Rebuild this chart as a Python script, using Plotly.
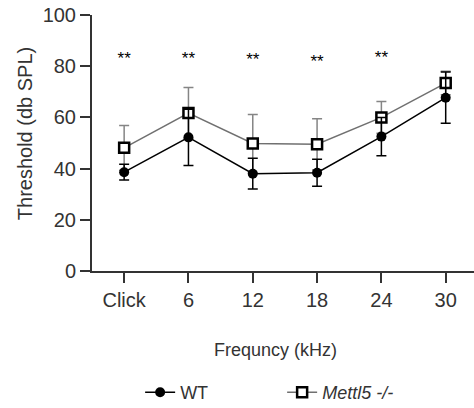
import plotly.graph_objects as go

categories = ["Click", "6", "12", "18", "24", "30"]
wt_mean = [38.6, 52.2, 38.0, 38.4, 52.5, 67.7]
wt_err = [3.1, 11.0, 6.0, 5.3, 7.5, 10.0]
ko_mean = [48.1, 61.7, 49.8, 49.5, 60.0, 73.4]
ko_err = [8.7, 10.0, 11.3, 10.0, 6.2, 4.6]
sig_categories = ["Click", "6", "12", "18", "24"]
sig_labels = ["**", "**", "**", "**", "**"]
sig_y = [82.5, 82.5, 82.0, 81.5, 82.8]

AX = "#333333"
FONT = "Liberation Sans, Arial, Helvetica, sans-serif"

fig = go.Figure()
fig.add_trace(go.Scatter(
    x=categories, y=ko_mean, mode="lines+markers", name="<i>Mettl5 -/-</i>",
    line=dict(color="#707070", width=1.5),
    marker=dict(symbol="square", size=10, color="white", line=dict(color="black", width=2.5)),
    error_y=dict(type="data", array=ko_err, visible=True, color="#858585", thickness=1.5, width=5),
))
fig.add_trace(go.Scatter(
    x=categories, y=wt_mean, mode="lines+markers", name="WT",
    line=dict(color="black", width=1.5),
    marker=dict(symbol="circle", size=10, color="black"),
    error_y=dict(type="data", array=wt_err, visible=True, color="black", thickness=1.5, width=5),
))
fig.add_trace(go.Scatter(
    x=sig_categories, y=sig_y, mode="text", text=sig_labels, showlegend=False,
    textfont=dict(size=17, color="black", family=FONT), textposition="middle center",
    hoverinfo="skip",
))

fig.add_annotation(xref="paper", yref="paper", x=0.481, y=-0.31, text="Frequncy (kHz)",
                   showarrow=False, font=dict(size=18, color=AX, family=FONT),
                   xanchor="center", yanchor="middle")
fig.add_annotation(xref="paper", yref="paper", x=-0.175, y=0.535, text="Threshold (db SPL)",
                   textangle=-90, showarrow=False, font=dict(size=20, color=AX, family=FONT),
                   xanchor="center", yanchor="middle")

fig.update_layout(
    width=474, height=408,
    margin=dict(l=92, r=0, t=15, b=137, autoexpand=False),
    plot_bgcolor="white", paper_bgcolor="white",
    font=dict(family=FONT, color=AX),
    showlegend=True,
    legend=dict(orientation="h", x=0.126, y=-0.475, xanchor="left", yanchor="middle",
                traceorder="reversed", font=dict(size=18, color=AX, family=FONT),
                entrywidth=97, entrywidthmode="pixels"),
    xaxis=dict(type="category", categoryorder="array", categoryarray=categories,
               range=[-0.5, 5.44], showline=True, linewidth=2, linecolor=AX,
               ticks="outside", ticklen=10, tickwidth=2, tickcolor=AX,
               showgrid=False, zeroline=False, tickfont=dict(size=20, color=AX)),
    yaxis=dict(range=[0, 100], dtick=20, showline=True, linewidth=2, linecolor=AX,
               ticks="outside", ticklen=10, tickwidth=2, tickcolor=AX,
               showgrid=False, zeroline=False, tickfont=dict(size=20, color=AX)),
)

fig.write_html("out.html", config={"displayModeBar": False},
               post_script="document.body.style.margin='0px';document.body.style.overflow='hidden';")
